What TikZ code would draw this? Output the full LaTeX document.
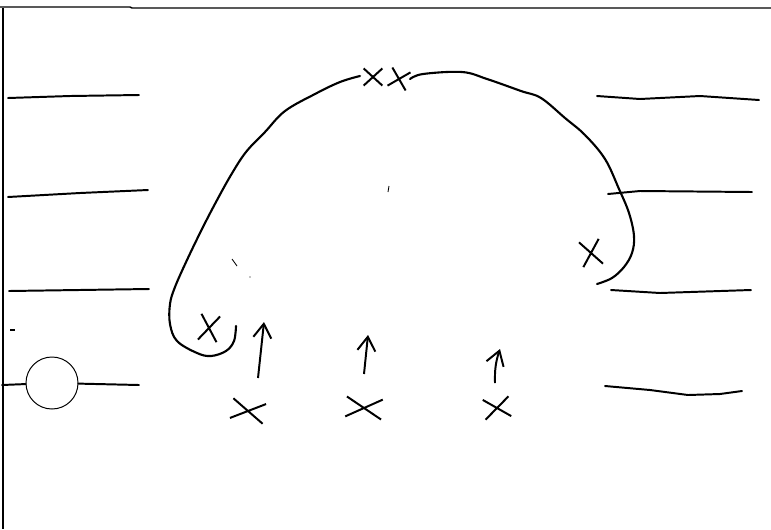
\documentclass[tikz,border=0pt]{standalone}
\usepackage{tikz}
\usetikzlibrary{
    arrows.meta,
    positioning,
    shapes.misc
}

\begin{document}
\begin{tikzpicture}[
    x=0.025cm,
    y=-0.025cm,
    frame/.style={line width=1pt},
    wire/.style={line width=1.4pt, line cap=round},
    rim/.style={line width=1.5pt, line cap=round, line join=round},
    crossmark/.style={
        cross out,
        draw,
        inner sep=0pt,
        line width=1.4pt,
        minimum width=0.45cm,
        minimum height=0.45cm
    },
    bead/.style={
        circle,
        draw,
        line width=0.7pt,
        minimum size=1.3cm,
        inner sep=0pt,
        fill=white
    },
    push/.style={line width=1.4pt, -{Straight Barb[length=3.5mm, width=4.5mm]}}
]
\useasboundingbox (0,0) rectangle (771,529);

% ============================================================
% MARCO
% ============================================================
\draw[frame] (0,7) -- (130,7) -- (132,8) -- (771,8);
\draw[frame] (3,8) -- (3,529);

% ============================================================
% LINEAS IZQUIERDA
% ============================================================
\coordinate (l1a) at (8,98);
\coordinate (l1b) at (139,95);
\coordinate (l2a) at (8,197);
\coordinate (l2b) at (148,190);
\coordinate (l3a) at (9,291);
\coordinate (l3b) at (149,289);
\coordinate (l4a) at (2,385);
\coordinate (l4b) at (139,385);

\draw[wire] (l1a) -- (70,96) -- (l1b);
\draw[wire] (l2a) -- (80,193) -- (l2b);
\draw[wire] (l3a) -- (l3b);

% bolita sobre la ultima linea
\node[bead] (ball) at (52,383) {};
\draw[wire] (l4a) -- (ball);
\draw[wire] (ball) -- (l4b);

% ============================================================
% LINEAS DERECHA
% ============================================================
\coordinate (r1a) at (597,96);
\coordinate (r1b) at (759,100);
\coordinate (r2a) at (608,194);
\coordinate (r2b) at (752,192);
\coordinate (r3a) at (611,290);
\coordinate (r3b) at (751,290);
\coordinate (r4a) at (605,386);
\coordinate (r4b) at (742,391);

\draw[wire] (r1a) -- (640,99) -- (700,96) -- (r1b);
\draw[wire] (r2a) -- (640,191) -- (r2b);
\draw[wire] (r3a) -- (660,293) -- (r3b);
\draw[wire] (r4a) -- (650,390) -- (688,395) -- (720,394) -- (r4b);

% ============================================================
% CRUCES
% ============================================================
\node[crossmark, minimum width=0.42cm, minimum height=0.38cm] (top1) at (373,77) {};
\node[crossmark, minimum width=0.42cm, minimum height=0.42cm, rotate=-15] (top2) at (399,79) {};
\node[crossmark, minimum width=0.42cm, minimum height=0.6cm, rotate=-8] (hookl) at (209,328) {};
\node[crossmark, minimum width=0.45cm, minimum height=0.58cm, rotate=10] (hookr) at (591,253) {};

\node[crossmark, minimum width=0.78cm, minimum height=0.45cm, rotate=-10] (low1) at (248,411) {};
\node[crossmark, minimum width=0.85cm, minimum height=0.45cm, rotate=-5] (low2) at (364,408) {};
\node[crossmark, minimum width=0.6cm, minimum height=0.45cm, rotate=8] (low3) at (497,408) {};

% ============================================================
% CURVA GRANDE
% ============================================================
\draw[rim] plot[smooth, tension=0.6] coordinates {
    (236,326) (234,341) (226,351) (211,356) (197,353) (177,341)
    (170,324) (170,304) (175,287) (187,260) (202,229) (216,202)
    (231,175) (246,152) (265,132) (285,111) (315,94) (340,82) (360,76)
};
\draw[rim] plot[smooth, tension=0.6] coordinates {
    (410,79) (423,74) (462,72) (487,79) (521,91) (541,98)
    (565,118) (585,135) (605,159) (619,189) (629,213) (634,236)
    (632,253) (624,267) (612,278) (597,284)
};

% ============================================================
% FLECHAS
% ============================================================
\coordinate (a1t) at (258,378);
\coordinate (a1h) at (264,322);
\coordinate (a2t) at (364,374);
\coordinate (a2h) at (368,335);
\coordinate (a3t) at (495,383);
\coordinate (a3h) at (500,349);

\draw[push] (a1t) -- (a1h);
\draw[push] (a2t) -- (a2h);
\draw[push] (a3t) to[bend left=10] (a3h);

% ============================================================
% TRAZOS SUELTOS
% ============================================================
\draw[line width=1pt] (10,330) -- (15,330);
\draw[line width=0.6pt] (389,186) -- (388,192);
\draw[line width=0.6pt] (232,259) -- (237,266);
\fill (250,277) circle (0.6);

\end{tikzpicture}
\end{document}
